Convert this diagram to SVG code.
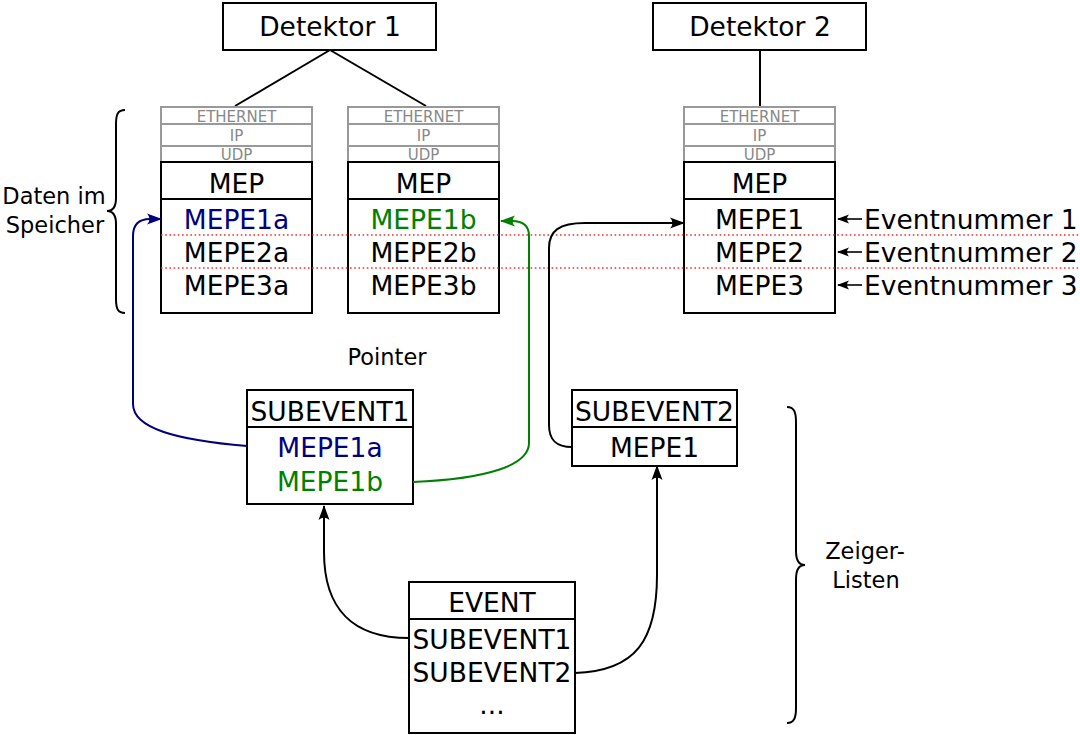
<svg xmlns="http://www.w3.org/2000/svg" width="1080" height="735" viewBox="0 0 1080 735">
  <style>
    text { font-family: "DejaVu Sans", "Bitstream Vera Sans", sans-serif; }
    .lbl { font-size: 26.5px; fill: #000; text-anchor: middle; }
    .small { font-size: 22.5px; fill: #000; text-anchor: middle; }
    .proto { font-size: 15px; fill: #888; text-anchor: middle; }
    .box { fill: #fff; stroke: #000; stroke-width: 2; }
    .pbox { fill: #fff; stroke: #999; stroke-width: 2; }
    .div { stroke: #000; stroke-width: 2; }
    .wire { fill: none; stroke: #000; stroke-width: 2; }
    .blue { fill: #000080; }
    .green { fill: #008000; }
    .dots { stroke: #ff2a2a; stroke-width: 1.6; stroke-dasharray: 1.6 2.6; }
  </style>
  <defs>
    <marker id="ahBlack" markerUnits="userSpaceOnUse" markerWidth="18" markerHeight="14" viewBox="-16 -7 18 14" refX="0" refY="0" orient="auto">
      <path d="M1,0 L-14,-5.5 Q-9,0 -14,5.5 Z" fill="#000"/>
    </marker>
    <marker id="ahBlue" markerUnits="userSpaceOnUse" markerWidth="18" markerHeight="14" viewBox="-16 -7 18 14" refX="0" refY="0" orient="auto">
      <path d="M1,0 L-14,-5.5 Q-9,0 -14,5.5 Z" fill="#000080"/>
    </marker>
    <marker id="ahGreen" markerUnits="userSpaceOnUse" markerWidth="18" markerHeight="14" viewBox="-16 -7 18 14" refX="0" refY="0" orient="auto">
      <path d="M1,0 L-14,-5.5 Q-9,0 -14,5.5 Z" fill="#008000"/>
    </marker>
    <marker id="ahSmall" markerUnits="userSpaceOnUse" markerWidth="14" markerHeight="12" viewBox="-12 -6 14 12" refX="0" refY="0" orient="auto">
      <path d="M1,0 L-11,-4.5 Q-7,0 -11,4.5 Z" fill="#000"/>
    </marker>
  </defs>

  <!-- detector feeds -->
  <g id="connectors">
    <line x1="330" y1="50" x2="235" y2="106" class="wire"/>
    <line x1="330" y1="50" x2="426" y2="106" class="wire"/>
    <line x1="760" y1="50" x2="760" y2="107" class="wire"/>
  </g>

  <g id="detektor1">
    <rect x="223" y="3" width="213" height="47" class="box"/>
    <text x="330" y="36" class="lbl">Detektor 1</text>
  </g>
  <g id="detektor2">
    <rect x="653" y="3" width="213" height="47" class="box"/>
    <text x="760" y="36" class="lbl">Detektor 2</text>
  </g>

  <!-- packet buffer A -->
  <g id="packetA">
    <rect x="161" y="107" width="151" height="17" class="pbox"/>
    <rect x="161" y="124" width="151" height="22" class="pbox"/>
    <rect x="161" y="146" width="151" height="16" class="pbox"/>
    <text x="236.5" y="122" class="proto">ETHERNET</text>
    <text x="236.5" y="141" class="proto">IP</text>
    <text x="236.5" y="160" class="proto">UDP</text>
    <rect x="161" y="162" width="151" height="151" class="box"/>
    <line x1="161" y1="199" x2="312" y2="199" class="div"/>
    <text x="236.5" y="193" class="lbl">MEP</text>
    <text x="236.5" y="229" class="lbl blue">MEPE1a</text>
    <text x="236.5" y="262" class="lbl">MEPE2a</text>
    <text x="236.5" y="295" class="lbl">MEPE3a</text>
  </g>

  <!-- packet buffer B -->
  <g id="packetB">
    <rect x="348" y="107" width="151" height="17" class="pbox"/>
    <rect x="348" y="124" width="151" height="22" class="pbox"/>
    <rect x="348" y="146" width="151" height="16" class="pbox"/>
    <text x="423.5" y="122" class="proto">ETHERNET</text>
    <text x="423.5" y="141" class="proto">IP</text>
    <text x="423.5" y="160" class="proto">UDP</text>
    <rect x="348" y="162" width="151" height="151" class="box"/>
    <line x1="348" y1="199" x2="499" y2="199" class="div"/>
    <text x="423.5" y="193" class="lbl">MEP</text>
    <text x="423.5" y="229" class="lbl green">MEPE1b</text>
    <text x="423.5" y="262" class="lbl">MEPE2b</text>
    <text x="423.5" y="295" class="lbl">MEPE3b</text>
  </g>

  <!-- packet buffer of detector 2 -->
  <g id="packetC">
    <rect x="684" y="107" width="151" height="17" class="pbox"/>
    <rect x="684" y="124" width="151" height="22" class="pbox"/>
    <rect x="684" y="146" width="151" height="16" class="pbox"/>
    <text x="759.5" y="122" class="proto">ETHERNET</text>
    <text x="759.5" y="141" class="proto">IP</text>
    <text x="759.5" y="160" class="proto">UDP</text>
    <rect x="684" y="162" width="151" height="151" class="box"/>
    <line x1="684" y1="199" x2="835" y2="199" class="div"/>
    <text x="759.5" y="193" class="lbl">MEP</text>
    <text x="759.5" y="229" class="lbl">MEPE1</text>
    <text x="759.5" y="262" class="lbl">MEPE2</text>
    <text x="759.5" y="295" class="lbl">MEPE3</text>
  </g>

  <!-- event number separators -->
  <g id="eventRows">
    <line x1="161" y1="235" x2="1080" y2="235" class="dots"/>
    <line x1="161" y1="268" x2="1080" y2="268" class="dots"/>
  </g>

  <g id="eventnummern">
    <line x1="862" y1="219" x2="838" y2="219" stroke="#000" stroke-width="1.6" marker-end="url(#ahSmall)"/>
    <line x1="862" y1="252" x2="838" y2="252" stroke="#000" stroke-width="1.6" marker-end="url(#ahSmall)"/>
    <line x1="862" y1="285" x2="838" y2="285" stroke="#000" stroke-width="1.6" marker-end="url(#ahSmall)"/>
    <text x="864" y="229" font-size="26.5">Eventnummer 1</text>
    <text x="864" y="262" font-size="26.5">Eventnummer 2</text>
    <text x="864" y="295" font-size="26.5">Eventnummer 3</text>
  </g>

  <!-- memory brace -->
  <g id="speicher">
    <path d="M125,110 C118,110 116,114 116,124 L116,198 C116,207 113,211 107,211 C113,211 116,215 116,224 L116,299 C116,309 118,313 125,313" class="wire"/>
    <text x="54" y="204" class="small">Daten im</text>
    <text x="55" y="233" class="small">Speicher</text>
  </g>

  <g id="pointerLabel">
    <text x="387" y="365" class="small">Pointer</text>
  </g>

  <g id="subevent1">
    <rect x="247" y="390" width="166" height="114" class="box"/>
    <line x1="247" y1="427" x2="413" y2="427" class="div"/>
    <text x="330" y="421" class="lbl">SUBEVENT1</text>
    <text x="330" y="457" class="lbl blue">MEPE1a</text>
    <text x="330" y="491" class="lbl green">MEPE1b</text>
  </g>

  <g id="subevent2">
    <rect x="572" y="390" width="165" height="76" class="box"/>
    <line x1="572" y1="427" x2="737" y2="427" class="div"/>
    <text x="654.5" y="421" class="lbl">SUBEVENT2</text>
    <text x="654.5" y="457" class="lbl">MEPE1</text>
  </g>

  <g id="event">
    <rect x="409" y="582" width="166" height="151" class="box"/>
    <line x1="409" y1="619" x2="575" y2="619" class="div"/>
    <text x="492" y="612" class="lbl">EVENT</text>
    <text x="492" y="649" class="lbl">SUBEVENT1</text>
    <text x="492" y="682" class="lbl">SUBEVENT2</text>
    <text x="492" y="714" class="lbl">...</text>
  </g>

  <!-- pointer list brace -->
  <g id="zeigerlisten">
    <path d="M787,407 C794,407 796,412 796,422 L796,551 C796,561 799,565 805,565 C799,565 796,569 796,579 L796,708 C796,718 794,723 787,723" class="wire"/>
    <text x="865" y="559" class="small">Zeiger-</text>
    <text x="866" y="588" class="small">Listen</text>
  </g>

  <!-- pointers -->
  <g id="pointers">
    <path d="M247,446 C175,440 133,428 133,404 L133,236 C133,225 139,219 150,219 L161,219" fill="none" stroke="#000080" stroke-width="2" marker-end="url(#ahBlue)"/>
    <path d="M413,482 C485,479 529,466 529,443 L529,236 C529,226 524,221 512,221 L501,221" fill="none" stroke="#008000" stroke-width="2" marker-end="url(#ahGreen)"/>
    <path d="M572,447 C556,447 549,440 549,425 L549,248 C549,231 559,223 585,223 L684,223" class="wire" marker-end="url(#ahBlack)"/>
    <path d="M409,638 C352,638 324,608 324,552 L324,506" class="wire" marker-end="url(#ahBlack)"/>
    <path d="M575,673 C636,671 657,640 657,575 L657,466" class="wire" marker-end="url(#ahBlack)"/>
  </g>
</svg>
